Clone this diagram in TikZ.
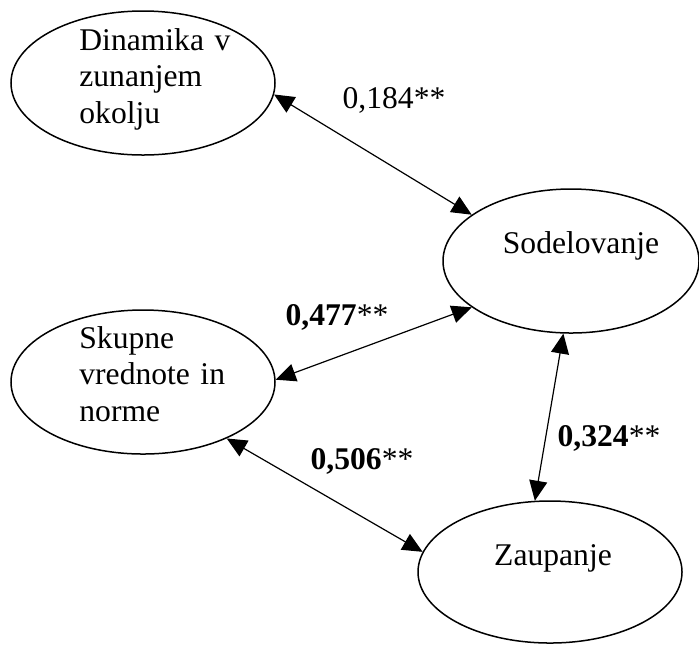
\documentclass[tikz,border=0pt]{standalone}
\usepackage{fontspec}
\setmainfont{Liberation Serif}
\usetikzlibrary{arrows.meta,shapes.geometric}

\begin{document}
\begin{tikzpicture}[x=0.5pt,y=-0.5pt,
    latent/.style={draw,ellipse,line width=0.75pt,inner sep=0pt,minimum width=132pt,minimum height=72pt},
    lbl/.style={font=\fontsize{15.8}{18.4}\selectfont,inner sep=0pt},
    txt/.style={lbl,text width=90pt,align=left,anchor=base west},
    corr/.style={{Triangle[length=10pt,width=9pt]}-{Triangle[length=10pt,width=9pt]},line width=0.6pt}]
    \useasboundingbox (0,0) rectangle (699,644);
    % latent variables
    \node[latent] (din) at (143,83) {};
    \node[latent,minimum width=128pt] (sod) at (571,261) {};
    \node[latent] (skup) at (143,382) {};
    \node[latent,minimum height=71pt] (zaup) at (550,572) {};
    % their texts
    \node[txt] (dintxt) at (79,50) {Dinamika v\\zunanjem\\okolju};
    \node[txt] (skuptxt) at (79,348) {Skupne\\vrednote in\\norme};
    \node[lbl,anchor=base] (sodtxt) at (581,253) {Sodelovanje};
    \node[lbl,anchor=base] (zauptxt) at (553,565) {Zaupanje};
    % correlations
    \draw[corr] (din.-5) -- (sod.155);
    \draw[corr] (sod.205) -- (skup.1);
    \draw[corr] (sod.264) -- (zaup.102);
    \draw[corr] (skup.-34) -- (zaup.171);
    \node[lbl,anchor=base] (r1) at (394,108) {0,184**};
    \node[lbl,anchor=base] (r2) at (337,325) {\textbf{0,477}**};
    \node[lbl,anchor=base] (r3) at (609,446) {\textbf{0,324}**};
    \node[lbl,anchor=base] (r4) at (362,469) {\textbf{0,506}**};
\end{tikzpicture}
\end{document}
